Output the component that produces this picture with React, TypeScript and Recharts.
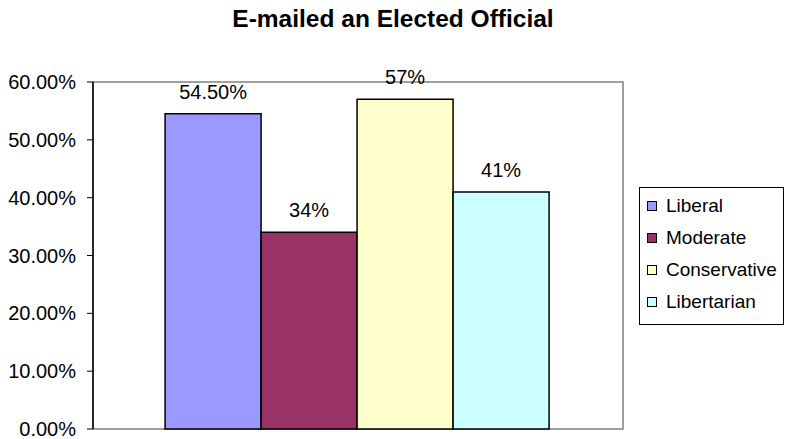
import { BarChart, Bar, XAxis, YAxis, LabelList, ReferenceArea } from 'recharts'

const groups = ['E-mailed']
const seriesNames = ['Liberal', 'Moderate', 'Conservative', 'Libertarian']
const seriesValues = [54.5, 34, 57, 41]
const seriesLabels = ['54.50%', '34%', '57%', '41%']
const seriesColors = ['#9999ff', '#993366', '#ffffcc', '#ccffff']
const yTicks = [0, 10, 20, 30, 40, 50, 60]
const yTickLabels = ['0.00%', '10.00%', '20.00%', '30.00%', '40.00%', '50.00%', '60.00%']

const data = groups.map((g) => {
  const row: Record<string, string | number> = { group: g }
  seriesNames.forEach((name, i) => {
    row[name] = seriesValues[i]
  })
  return row
})

const font = '"Liberation Sans", Arial, Helvetica, sans-serif'

function LegendBox() {
  return (
    <div
      style={{
        position: 'absolute',
        left: 639,
        top: 187,
        width: 136,
        border: '1px solid #000',
        background: '#fff',
        padding: '2px 0 6px 7px',
        fontFamily: font,
        fontSize: 19,
        color: '#000',
      }}
    >
      {seriesNames.map((name, i) => (
        <div key={name} style={{ display: 'flex', alignItems: 'center', height: 32 }}>
          <span
            style={{
              width: 8,
              height: 8,
              border: '1px solid #000',
              background: seriesColors[i],
              marginRight: 9,
            }}
          />
          {name}
        </div>
      ))}
    </div>
  )
}

export default function App() {
  return (
    <div style={{ position: 'absolute', left: 0, top: 0, width: 786, height: 439, background: '#fff', fontFamily: font }}>
      <div
        style={{
          position: 'absolute',
          top: 5,
          left: 0,
          width: 786,
          textAlign: 'center',
          fontWeight: 'bold',
          fontSize: 24.5,
        }}
      >
        E-mailed an Elected Official
      </div>
      <BarChart
        width={786}
        height={439}
        data={data}
        margin={{ top: 82, right: 163, bottom: 10, left: 0 }}
        barCategoryGap="13.6%"
        barGap={0}
      >
        {/* grey frame around the plot area */}
        <ReferenceArea y1={0} y2={60} fill="none" stroke="#808080" strokeWidth={1.5} />
        <XAxis dataKey="group" tick={false} axisLine={{ stroke: '#808080', strokeWidth: 1.5 }} tickLine={false} height={0} />
        <YAxis
          width={93}
          domain={[0, 60]}
          ticks={yTicks}
          interval={0}
          tickFormatter={(v: number) => yTickLabels[yTicks.indexOf(v)]}
          tick={{ fill: '#000', fontSize: 20, fontFamily: font }}
          tickSize={6}
          tickMargin={11}
          axisLine={{ stroke: '#000', strokeWidth: 1.5 }}
          tickLine={{ stroke: '#000' }}
        />
        {seriesNames.map((name, i) => (
          <Bar
            key={name}
            dataKey={name}
            fill={seriesColors[i]}
            stroke="#000"
            strokeWidth={1.5}
            isAnimationActive={false}
          >
            <LabelList
              dataKey={name}
              position="top"
              offset={15}
              formatter={() => seriesLabels[i]}
              style={{ fill: '#000', fontSize: 20, fontFamily: font }}
            />
          </Bar>
        ))}
      </BarChart>
      <LegendBox />
    </div>
  )
}
